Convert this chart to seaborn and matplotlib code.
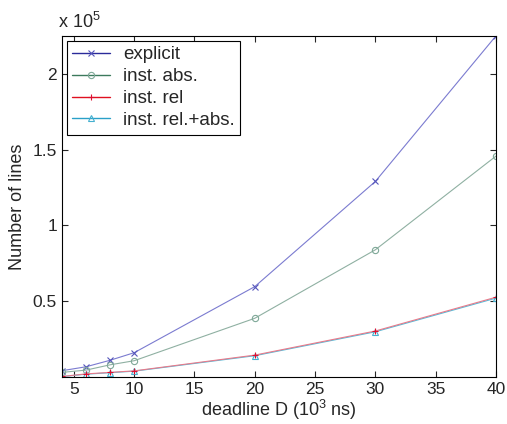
import matplotlib
matplotlib.use("Agg")
import matplotlib.pyplot as plt
import seaborn as sns
import pandas as pd

deadline = [4, 6, 8, 10, 20, 30, 40]
explicit = [4100, 6700, 11000, 16000, 59600, 129000, 225000]
inst_abs = [3000, 4500, 8000, 10700, 38700, 83900, 145700]
inst_rel = [300, 2000, 3000, 4000, 14400, 30300, 52600]
inst_rel_abs = [200, 1800, 2800, 3800, 14000, 29800, 52000]

series_names = ["explicit", "inst. abs.", "inst. rel", "inst. rel.+abs."]
series_vals = [explicit, inst_abs, inst_rel, inst_rel_abs]

rows = []
for name, vals in zip(series_names, series_vals):
    for x, v in zip(deadline, vals):
        rows.append({"D": x, "lines": v, "series": name})
df = pd.DataFrame(rows)

sns.set_style("ticks")
plt.rcParams['font.family'] = ['Liberation Sans', 'DejaVu Sans']
plt.rcParams['mathtext.fontset'] = 'custom'
plt.rcParams['mathtext.rm'] = 'Liberation Sans'

fig = plt.figure(figsize=(5.07, 4.24), dpi=100)
ax = fig.add_axes([0.122, 0.111, 0.856, 0.804])

line_colors = ["#7b7bd0", "#8fb0a2", "#e87a8a", "#55bbd8"]
legend_colors = ["#2b2b9a", "#3c7a5c", "#e01020", "#2aa0c8"]
marker_colors = ["#5555bb", "#7fa898", "#dd1030", "#44b0d0"]
markers = ["x", "o", "+", "^"]

handles = []
order = [0, 1, 3, 2]
for i in order:
    name, lc, mc, m = series_names[i], line_colors[i], marker_colors[i], markers[i]
    sub = df[df["series"] == name]
    sns.lineplot(data=sub, x="D", y="lines", ax=ax, color=lc, linewidth=0.8,
                 marker=m, markersize=4.5, markerfacecolor="none",
                 markeredgecolor=mc, markeredgewidth=0.8, legend=False)
for name, mc, lg, m in zip(series_names, marker_colors, legend_colors, markers):
    h, = ax.plot([], [], color=lg, linewidth=1.0, marker=m, markersize=4.5,
                 markerfacecolor="none", markeredgecolor=mc, markeredgewidth=0.8, label=name)
    handles.append(h)

ax.set_xlim(4, 40)
ax.set_ylim(0, 225000)
ax.set_xticks([5, 10, 15, 20, 25, 30, 35, 40])
ax.set_yticks([50000, 100000, 150000, 200000])
ax.set_yticklabels(["0.5", "1", "1.5", "2"])
ax.tick_params(direction="in", top=True, right=True, labelsize=12.5, length=4, width=0.8)
for s in ax.spines.values():
    s.set_visible(True)
    s.set_linewidth(0.8)
    s.set_color("black")

ax.set_xlabel(r"deadline D (10$^3$ ns)", fontsize=13, labelpad=1)
ax.set_ylabel("Number of lines", fontsize=13, labelpad=5)
ax.text(-0.01, 1.012, r"x 10$^5$", transform=ax.transAxes, fontsize=13, ha="left", va="bottom")

leg = ax.legend(handles=handles, loc="upper left", fontsize=13.5, frameon=True,
                fancybox=False, edgecolor="black", framealpha=1, handlelength=2.0,
                borderaxespad=0.25, labelspacing=0.25, borderpad=0.3, handletextpad=0.7)
leg.get_frame().set_linewidth(0.8)

fig.savefig("out.png", dpi=100)
